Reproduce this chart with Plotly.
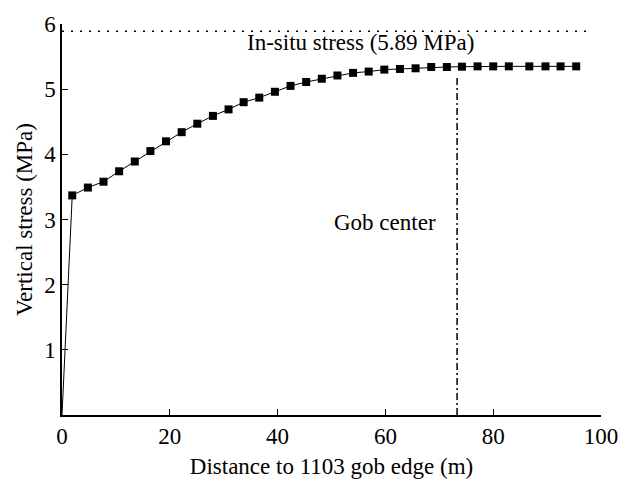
import plotly.graph_objects as go

# Vertical stress profile (first point at gob edge has no marker)
x_edge = [0.0]
y_edge = [0.0]
x_vals = [1.9, 4.8, 7.7, 10.6, 13.5, 16.4, 19.3, 22.2, 25.1, 28.0, 30.9, 33.7,
          36.6, 39.5, 42.4, 45.3, 48.2, 51.1, 54.0, 56.9, 59.8, 62.7, 65.6, 68.5,
          71.4, 74.2, 77.1, 80.0, 82.9, 86.7, 89.7, 92.5, 95.4]
y_vals = [3.37, 3.49, 3.58, 3.74, 3.89, 4.05, 4.20, 4.34, 4.47, 4.59, 4.69, 4.80,
          4.87, 4.96, 5.05, 5.11, 5.16, 5.21, 5.25, 5.27, 5.30, 5.31, 5.32, 5.34,
          5.34, 5.345, 5.35, 5.35, 5.35, 5.35, 5.35, 5.35, 5.35]

insitu_x = [0, 98.5]
insitu_y = [5.89, 5.89]
gob_center_x = [73.3, 73.3]
gob_center_y = [0, 5.2]

x_ticks = [0, 20, 40, 60, 80, 100]
y_ticks = [1, 2, 3, 4, 5, 6]

FONT = "Times New Roman, Liberation Serif, Times, serif"
black = "#000000"
FS = 23

fig = go.Figure()
fig.add_trace(go.Scatter(x=insitu_x, y=insitu_y, mode="lines",
                         line=dict(color=black, width=1.5, dash="2px,7px"),
                         hoverinfo="skip", showlegend=False))
fig.add_trace(go.Scatter(x=gob_center_x, y=gob_center_y, mode="lines",
                         line=dict(color=black, width=1.5, dash="7px,3px,2px,3px"),
                         hoverinfo="skip", showlegend=False))
fig.add_trace(go.Scatter(x=x_edge + x_vals, y=y_edge + y_vals, mode="lines",
                         line=dict(color=black, width=1),
                         showlegend=False))
fig.add_trace(go.Scatter(x=x_vals, y=y_vals, mode="markers",
                         marker=dict(symbol="square", size=8, color=black),
                         showlegend=False))

fig.add_annotation(x=55.4, y=5.71, text="In-situ stress (5.89 MPa)", showarrow=False,
                   font=dict(family=FONT, size=FS, color=black))
fig.add_annotation(x=60.0, y=2.96, text="Gob center", showarrow=False,
                   font=dict(family=FONT, size=FS, color=black))

fig.update_layout(
    width=630, height=488,
    margin=dict(l=62, r=29, t=15, b=73),
    paper_bgcolor="white", plot_bgcolor="white",
    font=dict(family=FONT, size=FS, color=black),
)
fig.update_xaxes(range=[0, 100], tickvals=x_ticks, ticks="inside", ticklen=6,
                 tickwidth=1, tickcolor=black, showline=True, linecolor=black,
                 linewidth=1.5, showgrid=False, zeroline=False, mirror=False,
                 tickfont=dict(family=FONT, size=FS),
                 title=dict(text="Distance to 1103 gob edge (m)", standoff=10,
                            font=dict(family=FONT, size=FS)))
fig.update_yaxes(range=[0, 6], tickvals=y_ticks, ticks="inside", ticklen=6,
                 tickwidth=1, tickcolor=black, showline=True, linecolor=black,
                 linewidth=1.5, showgrid=False, zeroline=False, mirror=False,
                 tickfont=dict(family=FONT, size=FS),
                 title=dict(text="Vertical stress (MPa)", standoff=5,
                            font=dict(family=FONT, size=FS)))

fig.write_html("out.html")
